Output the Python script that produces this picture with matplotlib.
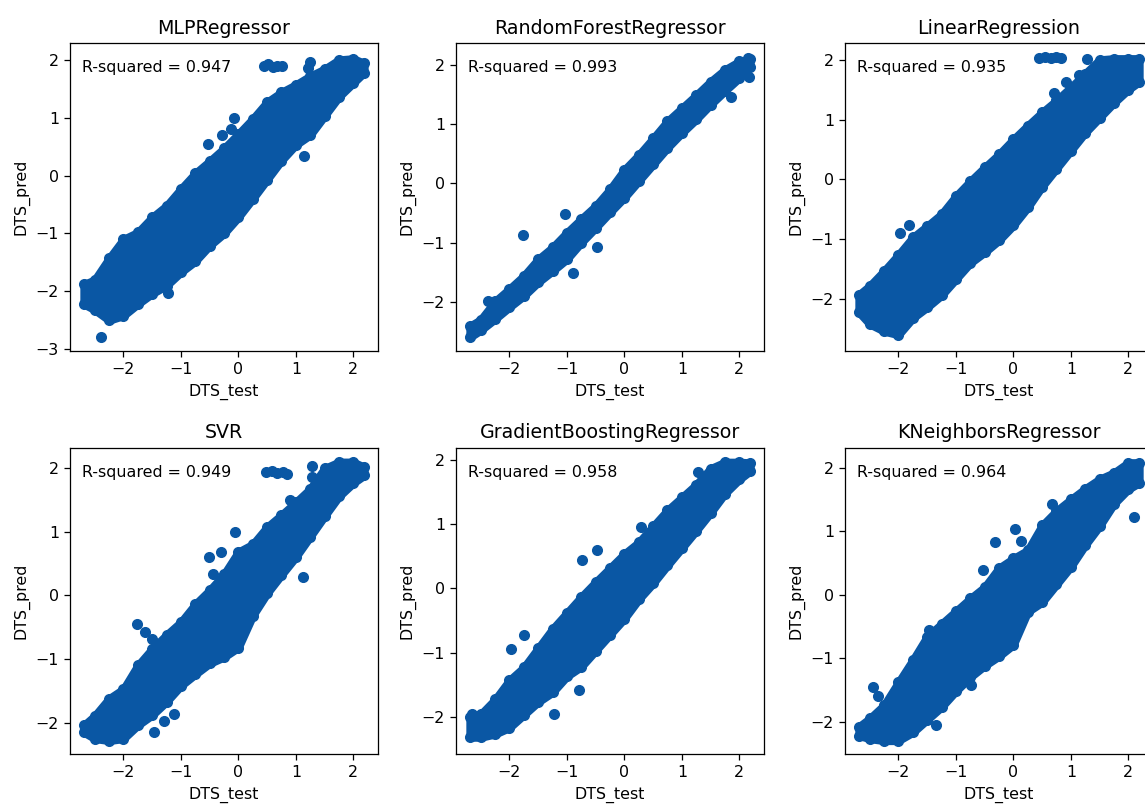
import matplotlib
matplotlib.use('Agg')
import matplotlib.pyplot as plt

# x positions (DTS_test) where the edges of each dense point cloud were read
band_x = [-2.69, -2.5, -2.25, -2.0, -1.75, -1.5, -1.25, -1.0, -0.75, -0.5, -0.25,
          0.0, 0.25, 0.5, 0.75, 1.0, 1.25, 1.5, 1.75, 2.0, 2.19]

# upper / lower edge of the cloud (point centres), one pair per model
mlp_hi = [-1.88, -1.80, -1.43, -1.10, -0.98, -0.72, -0.52, -0.23, 0.04, 0.25, 0.47,
          0.72, 0.98, 1.27, 1.44, 1.57, 1.72, 1.84, 2.00, 2.02, 1.94]
mlp_lo = [-2.22, -2.32, -2.50, -2.42, -2.22, -2.04, -1.90, -1.67, -1.48, -1.21, -1.00,
          -0.72, -0.40, -0.07, 0.26, 0.53, 0.70, 1.03, 1.36, 1.60, 1.78]
rf_hi = [-2.41, -2.30, -1.99, -1.78, -1.56, -1.28, -1.08, -0.83, -0.60, -0.38, -0.10,
         0.23, 0.48, 0.76, 1.05, 1.27, 1.49, 1.72, 1.92, 2.06, 2.10]
rf_lo = [-2.60, -2.48, -2.29, -2.09, -1.90, -1.67, -1.48, -1.28, -1.00, -0.75, -0.49,
         -0.24, 0.04, 0.32, 0.60, 0.85, 1.08, 1.33, 1.56, 1.78, 1.97]
lr_hi = [-1.93, -1.78, -1.53, -1.26, -0.97, -0.78, -0.58, -0.28, -0.03, 0.20, 0.42,
         0.67, 0.90, 1.12, 1.32, 1.54, 1.77, 2.00, 2.02, 2.02, 2.02]
lr_lo = [-2.22, -2.42, -2.54, -2.60, -2.32, -2.14, -1.94, -1.67, -1.40, -1.22, -1.02,
         -0.77, -0.47, -0.12, 0.18, 0.48, 0.78, 1.03, 1.28, 1.50, 1.63]
svr_hi = [-2.04, -1.89, -1.62, -1.47, -1.10, -0.84, -0.62, -0.42, -0.14, 0.08, 0.33,
          0.68, 0.80, 1.07, 1.26, 1.46, 1.67, 1.99, 2.09, 2.09, 2.01]
svr_lo = [-2.15, -2.25, -2.28, -2.25, -2.04, -1.88, -1.67, -1.42, -1.24, -1.07, -0.97,
          -0.82, -0.32, 0.03, 0.32, 0.60, 0.92, 1.24, 1.55, 1.76, 1.88]
gb_hi = [-2.00, -1.96, -1.73, -1.43, -1.23, -0.93, -0.63, -0.38, -0.13, 0.10, 0.32,
         0.54, 0.72, 0.97, 1.22, 1.42, 1.62, 1.87, 1.97, 1.97, 1.96]
gb_lo = [-2.32, -2.32, -2.27, -2.17, -1.97, -1.77, -1.62, -1.37, -1.22, -0.97, -0.72,
         -0.47, -0.17, 0.08, 0.36, 0.63, 0.90, 1.18, 1.48, 1.70, 1.83]
kn_hi = [-2.08, -1.95, -1.74, -1.38, -1.03, -0.66, -0.46, -0.26, -0.06, 0.12, 0.42,
         0.57, 0.70, 1.09, 1.32, 1.50, 1.67, 1.82, 1.92, 2.08, 2.08]
kn_lo = [-2.22, -2.27, -2.30, -2.30, -2.17, -1.97, -1.77, -1.52, -1.30, -1.12, -0.97,
         -0.79, -0.27, -0.12, 0.16, 0.44, 0.78, 1.08, 1.43, 1.66, 1.76]

# isolated points outside the main cloud
mlp_out_x = [-2.39, -1.14, -1.22, 0.45, 0.52, 0.60, 0.68, 0.76, -0.52, -0.28, -0.12, -0.07, 1.25, 1.22, 1.15]
mlp_out_y = [-2.79, -1.74, -2.02, 1.90, 1.92, 1.88, 1.90, 1.89, 0.55, 0.70, 0.80, 0.99, 1.97, 1.85, 0.33]
rf_out_x = [-1.76, -1.04, -0.90, -0.48, -2.37, 1.85, 2.17, 2.15]
rf_out_y = [-0.87, -0.51, -1.52, -1.07, -1.99, 1.46, 1.80, 2.12]
lr_out_x = [0.45, 0.55, 0.65, 0.75, 0.83, 1.28, -1.98, -1.81, 1.14, 0.92, 0.70]
lr_out_y = [2.03, 2.05, 2.03, 2.05, 2.03, 2.02, -0.89, -0.77, 1.74, 1.62, 1.45]
svr_out_x = [0.48, 0.58, 0.68, 0.78, 0.85, 1.29, 1.29, 0.89, -0.05, -0.51, -0.31, -0.45, 1.12,
             -1.76, -1.62, -1.50, -1.47, -1.12, -1.30]
svr_out_y = [1.93, 1.95, 1.91, 1.94, 1.90, 2.02, 1.86, 1.49, 1.00, 0.60, 0.68, 0.34, 0.29,
             -0.45, -0.58, -0.68, -2.15, -1.86, -1.98]
gb_out_x = [-2.65, -1.98, -1.75, -0.73, -0.47, 0.29, -1.22, -0.79, 1.28]
gb_out_y = [-1.95, -0.94, -0.72, 0.44, 0.60, 0.96, -1.95, -1.58, 1.82]
kn_out_x = [0.03, 0.13, -0.32, -0.52, 0.67, 0.82, 2.10, -2.45, -2.36, -1.34, -0.73, -1.46]
kn_out_y = [1.04, 0.85, 0.83, 0.39, 1.43, 1.32, 1.22, -1.45, -1.60, -2.05, -1.42, -0.56]

models = ["MLPRegressor", "RandomForestRegressor", "LinearRegression",
          "SVR", "GradientBoostingRegressor", "KNeighborsRegressor"]
r_squared = [0.947, 0.993, 0.935, 0.949, 0.958, 0.964]

DOT = '#0a57a4'
W, H, DPI = 1145, 805, 114


def draw_panel(ax, title, r2, hi, lo, out_x, out_y, ylim):
    # dense core of the cloud, then the edge points and the stray points
    ax.fill_between(band_x, lo, hi, facecolor=DOT, edgecolor=DOT, linewidth=5,
                    joinstyle='round')
    ax.scatter(band_x, hi, color=DOT)
    ax.scatter(band_x, lo, color=DOT)
    ax.scatter(out_x, out_y, color=DOT)
    ax.text(0.04, 0.945, f"R-squared = {r2:.3f}", transform=ax.transAxes,
            va='top', ha='left', fontsize=10)
    ax.set_title(title)
    ax.set_xlabel('DTS_test')
    ax.set_ylabel('DTS_pred')
    ax.set_xlim(-2.93, 2.43)
    ax.set_ylim(*ylim)


if __name__ == '__main__':
    highs = [mlp_hi, rf_hi, lr_hi, svr_hi, gb_hi, kn_hi]
    lows = [mlp_lo, rf_lo, lr_lo, svr_lo, gb_lo, kn_lo]
    outs_x = [mlp_out_x, rf_out_x, lr_out_x, svr_out_x, gb_out_x, kn_out_x]
    outs_y = [mlp_out_y, rf_out_y, lr_out_y, svr_out_y, gb_out_y, kn_out_y]
    ylims = [(-3.03, 2.29), (-2.83, 2.37), (-2.87, 2.28),
             (-2.49, 2.31), (-2.58, 2.19), (-2.51, 2.31)]

    fig = plt.figure(figsize=(W / DPI, H / DPI), dpi=DPI)
    col_left = [70, 456, 845]
    row_top = [43, 448]
    row_h = [308, 306]
    for i in range(6):
        r, c = divmod(i, 3)
        rect = [col_left[c] / W, 1 - (row_top[r] + row_h[r]) / H, 308 / W, row_h[r] / H]
        ax = fig.add_axes(rect)
        draw_panel(ax, models[i], r_squared[i], highs[i], lows[i],
                   outs_x[i], outs_y[i], ylims[i])

    fig.savefig('out.png', dpi=DPI)
